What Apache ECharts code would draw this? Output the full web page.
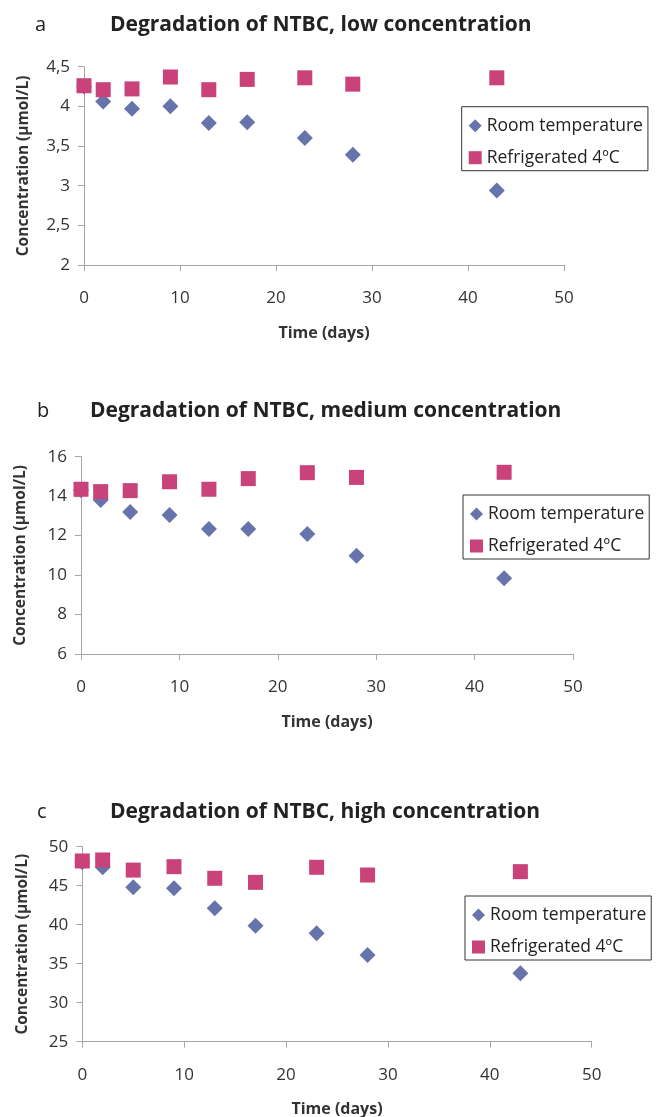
<!DOCTYPE html>
<html>
<head>
<meta charset="utf-8">
<script src="https://cdn.jsdelivr.net/npm/echarts@6/dist/echarts.min.js"></script>
<style>
html,body{margin:0;padding:0;background:#fff;}
#chart{width:661px;height:1117px;}
</style>
</head>
<body>
<div id="chart"></div>
<script>
const days = [0, 2, 5, 9, 13, 17, 23, 28, 43];
const lowRoom = [4.25, 4.06, 3.97, 4.0, 3.79, 3.8, 3.6, 3.39, 2.94];
const lowFridge = [4.26, 4.21, 4.22, 4.37, 4.21, 4.34, 4.36, 4.28, 4.36];
const medRoom = [14.3, 13.8, 13.2, 13.05, 12.33, 12.33, 12.08, 10.98, 9.84];
const medFridge = [14.35, 14.23, 14.28, 14.73, 14.35, 14.89, 15.19, 14.95, 15.21];
const highRoom = [48.0, 47.36, 44.8, 44.67, 42.1, 39.87, 38.9, 36.1, 33.77];
const highFridge = [48.17, 48.3, 47.0, 47.44, 45.95, 45.43, 47.36, 46.37, 46.8];
const seriesNames = ['Room temperature', 'Refrigerated 4ºC'];
const panelLetters = ['a', 'b', 'c'];
const panelTitles = ['Degradation of NTBC, low concentration', 'Degradation of NTBC, medium concentration', 'Degradation of NTBC, high concentration'];
const yRanges = [[2, 4.5, 0.5], [6, 16, 2], [25, 50, 5]];
const xRange = [0, 50, 10];
const xName = 'Time (days)';
const yName = 'Concentration (µmol/L)';

const FONT = '"Open Sans", "Noto Sans", sans-serif';
const roomColor = '#6774AC';
const fridgeColor = '#C9437A';
const axisColor = '#A6A6A6';
const textColor = '#333333';

const grids = [
  {left: 84, top: 66.7, width: 480, height: 198.3, outerBoundsMode: 'none'},
  {left: 81, top: 456.7, width: 492, height: 197.3, outerBoundsMode: 'none'},
  {left: 82.3, top: 846.7, width: 509.4, height: 195, outerBoundsMode: 'none'}
];
const titlePos = [
  {letterX: 30, titleX: 105, y: 7},
  {letterX: 32, titleX: 85, y: 393},
  {letterX: 32, titleX: 105, y: 794}
];
const legendPos = [
  {left: 461.7, top: 106.7},
  {left: 463, top: 495},
  {left: 465, top: 896}
];
const panelData = [[lowRoom, lowFridge], [medRoom, medFridge], [highRoom, highFridge]];

function pairs(xs, ys) { return xs.map((x, i) => [x, ys[i]]); }
function fmt(v) { return String(v).replace('.', ','); }

const option = {
  backgroundColor: '#fff',
  animation: false,
  title: [],
  grid: grids,
  xAxis: [],
  yAxis: [],
  legend: [],
  series: []
};

for (let p = 0; p < 3; p++) {
  option.title.push({
    text: panelLetters[p], left: titlePos[p].letterX, top: titlePos[p].y,
    textStyle: {fontFamily: FONT, fontSize: 20, fontWeight: 'normal', color: '#222', lineHeight: 26}
  });
  option.title.push({
    text: panelTitles[p], left: titlePos[p].titleX, top: titlePos[p].y,
    textStyle: {fontFamily: FONT, fontSize: 21, fontWeight: 'bold', color: '#222', lineHeight: 26}
  });
  option.xAxis.push({
    type: 'value', gridIndex: p, min: xRange[0], max: xRange[1], interval: xRange[2],
    name: xName, nameLocation: 'middle', nameGap: 60,
    nameTextStyle: {fontFamily: FONT, fontSize: 16, fontWeight: 'bold', color: textColor},
    axisLine: {show: true, onZero: false, lineStyle: {color: axisColor, width: 1}},
    axisTick: {show: true, inside: false, length: 6, lineStyle: {color: axisColor}},
    axisLabel: {fontFamily: FONT, fontSize: 17, color: textColor, margin: 25},
    splitLine: {show: false}
  });
  option.yAxis.push({
    type: 'value', gridIndex: p, min: yRanges[p][0], max: yRanges[p][1], interval: yRanges[p][2],
    name: yName, nameLocation: 'middle', nameGap: 52, nameRotate: 90,
    nameTextStyle: {fontFamily: FONT, fontSize: 15.5, fontWeight: 'bold', color: textColor},
    axisLine: {show: true, onZero: false, lineStyle: {color: axisColor, width: 1}},
    axisTick: {show: true, inside: false, length: 6, lineStyle: {color: axisColor}},
    axisLabel: {fontFamily: FONT, fontSize: 17, color: textColor, margin: 14, formatter: fmt},
    splitLine: {show: false}
  });
  option.legend.push({
    orient: 'vertical', left: legendPos[p].left, top: legendPos[p].top,
    padding: [9, 5, 3, 7], itemGap: 12, itemWidth: 13, itemHeight: 13,
    borderColor: '#333', borderWidth: 1, backgroundColor: '#fff',
    textStyle: {fontFamily: FONT, fontSize: 17.5, color: '#222', lineHeight: 20},
    data: [{name: seriesNames[0], icon: 'diamond'}, {name: seriesNames[1], icon: 'rect'}],
    selectedMode: false
  });
  option.series.push({
    name: seriesNames[0], type: 'scatter', xAxisIndex: p, yAxisIndex: p,
    symbol: 'diamond', symbolSize: 16, itemStyle: {color: roomColor, opacity: 1},
    data: pairs(days, panelData[p][0])
  });
  option.series.push({
    name: seriesNames[1], type: 'scatter', xAxisIndex: p, yAxisIndex: p,
    symbol: 'rect', symbolSize: 15, itemStyle: {color: fridgeColor, opacity: 1},
    data: pairs(days, panelData[p][1])
  });
}

const chart = echarts.init(document.getElementById('chart'), null, {renderer: 'canvas'});
chart.setOption(option);
</script>
</body>
</html>
